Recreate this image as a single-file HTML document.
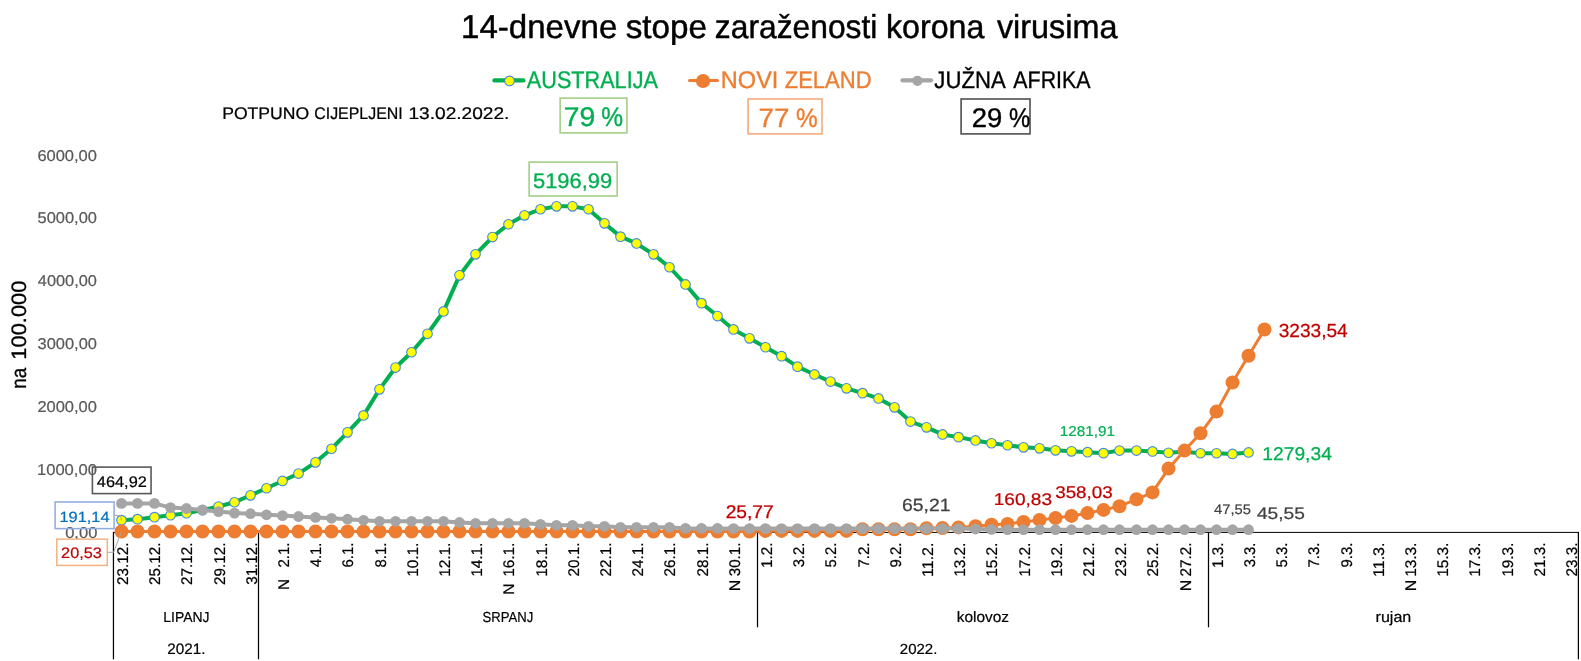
<!DOCTYPE html>
<html><head><meta charset="utf-8"><title>14-dnevne stope</title>
<style>
html,body{margin:0;padding:0;background:#fff;}
body{width:1581px;height:661px;overflow:hidden;}
svg{display:block;will-change:transform;font-family:"Liberation Sans",sans-serif;text-rendering:geometricPrecision;}
</style></head><body>
<svg width="1581" height="661" viewBox="0 0 1581 661">
<rect width="1581" height="661" fill="#fff"/>
<text transform="translate(461.09,37.90) scale(0.9978,1)" font-size="33.14" fill="#000" stroke="#000" stroke-width="0.46" stroke-linejoin="round">14-dnevne</text>
<text transform="translate(625.70,37.90) scale(1.0025,1)" font-size="33.14" fill="#000" stroke="#000" stroke-width="0.46" stroke-linejoin="round">stope</text>
<text transform="translate(714.83,37.90) scale(0.9594,1)" font-size="33.14" fill="#000" stroke="#000" stroke-width="0.46" stroke-linejoin="round">zaraženosti</text>
<text transform="translate(886.05,37.90) scale(0.9705,1)" font-size="33.14" fill="#000" stroke="#000" stroke-width="0.46" stroke-linejoin="round">korona</text>
<text transform="translate(996.90,37.90) scale(0.9772,1)" font-size="33.14" fill="#000" stroke="#000" stroke-width="0.46" stroke-linejoin="round">virusima</text>
<line x1="494.4" y1="80.4" x2="523.5" y2="80.4" stroke="#00b050" stroke-width="4.2" stroke-linecap="round"/>
<circle cx="509.5" cy="80.9" r="4.8" fill="#ffff00" stroke="#3f88dc" stroke-width="1.1"/>
<text transform="translate(526.86,87.50) scale(0.8966,1)" font-size="24.13" fill="#00b050" stroke="#00b050" stroke-width="0.34" stroke-linejoin="round">AUSTRALIJA</text>
<line x1="689.5" y1="80.5" x2="717.5" y2="80.5" stroke="#ed7d31" stroke-width="3" stroke-linecap="round"/>
<circle cx="703.05" cy="81.0" r="7.1" fill="#ed7d31"/>
<text transform="translate(720.87,87.50) scale(0.9746,1)" font-size="24.13" fill="#ed7d31" stroke="#ed7d31" stroke-width="0.34" stroke-linejoin="round">NOVI</text>
<text transform="translate(784.72,87.50) scale(0.9121,1)" font-size="24.13" fill="#ed7d31" stroke="#ed7d31" stroke-width="0.34" stroke-linejoin="round">ZELAND</text>
<line x1="902.5" y1="80.3" x2="931.0" y2="80.3" stroke="#a5a5a5" stroke-width="4.2" stroke-linecap="round"/>
<circle cx="917.4" cy="80.8" r="5.1" fill="#a5a5a5"/>
<text transform="translate(934.37,87.50) scale(0.9169,1)" font-size="24.13" fill="#000" stroke="#000" stroke-width="0.34" stroke-linejoin="round">JUŽNA</text>
<text transform="translate(1013.36,87.50) scale(0.8857,1)" font-size="24.13" fill="#000" stroke="#000" stroke-width="0.34" stroke-linejoin="round">AFRIKA</text>
<text transform="translate(222.16,119.40) scale(1.0466,1)" font-size="16.81" fill="#000" stroke="#000" stroke-width="0.24" stroke-linejoin="round">POTPUNO</text>
<text transform="translate(314.20,119.40) scale(0.9482,1)" font-size="16.81" fill="#000" stroke="#000" stroke-width="0.24" stroke-linejoin="round">CIJEPLJENI</text>
<text transform="translate(408.45,119.40) scale(1.1374,1)" font-size="16.81" fill="#000" stroke="#000" stroke-width="0.24" stroke-linejoin="round">13.02.2022.</text>
<rect x="560.15" y="98.10" width="66.75" height="34.80" fill="none" stroke="#a9d18e" stroke-width="1.7"/>
<text transform="translate(563.86,125.95) scale(1.0464,1)" font-size="27.05" fill="#00b050" stroke="#00b050" stroke-width="0.38" stroke-linejoin="round">79</text>
<text transform="translate(601.14,125.95) scale(0.9074,1)" font-size="27.05" fill="#00b050" stroke="#00b050" stroke-width="0.38" stroke-linejoin="round">%</text>
<rect x="748.10" y="99.00" width="73.90" height="34.90" fill="none" stroke="#f4b183" stroke-width="1.7"/>
<text transform="translate(758.54,126.80) scale(1.0356,1)" font-size="26.69" fill="#ed7d31" stroke="#ed7d31" stroke-width="0.37" stroke-linejoin="round">77</text>
<text transform="translate(795.95,126.80) scale(0.9148,1)" font-size="26.69" fill="#ed7d31" stroke="#ed7d31" stroke-width="0.37" stroke-linejoin="round">%</text>
<rect x="961.10" y="99.00" width="68.90" height="34.90" fill="none" stroke="#595959" stroke-width="1.7"/>
<text transform="translate(971.73,126.80) scale(1.0189,1)" font-size="26.98" fill="#000" stroke="#000" stroke-width="0.38" stroke-linejoin="round">29</text>
<text transform="translate(1009.06,126.80) scale(0.8871,1)" font-size="26.98" fill="#000" stroke="#000" stroke-width="0.38" stroke-linejoin="round">%</text>
<text transform="translate(36.94,475.15) scale(1.0585,1)" font-size="15.68" fill="#595959" stroke="#595959" stroke-width="0.22" stroke-linejoin="round">1000,00</text>
<text transform="translate(37.38,412.25) scale(1.0507,1)" font-size="15.68" fill="#595959" stroke="#595959" stroke-width="0.22" stroke-linejoin="round">2000,00</text>
<text transform="translate(37.58,349.35) scale(1.0471,1)" font-size="15.68" fill="#595959" stroke="#595959" stroke-width="0.22" stroke-linejoin="round">3000,00</text>
<text transform="translate(37.84,286.05) scale(1.0424,1)" font-size="15.68" fill="#595959" stroke="#595959" stroke-width="0.22" stroke-linejoin="round">4000,00</text>
<text transform="translate(37.54,223.15) scale(1.0477,1)" font-size="15.68" fill="#595959" stroke="#595959" stroke-width="0.22" stroke-linejoin="round">5000,00</text>
<text transform="translate(37.38,161.25) scale(1.0507,1)" font-size="15.68" fill="#595959" stroke="#595959" stroke-width="0.22" stroke-linejoin="round">6000,00</text>
<text transform="translate(65.16,538.25) scale(1.0545,1)" font-size="15.68" fill="#595959" stroke="#595959" stroke-width="0.22" stroke-linejoin="round">0,00</text>
<text transform="translate(26.20,388.74) rotate(-90) scale(0.9001,1)" font-size="20.90" fill="#000" stroke="#000" stroke-width="0.29" stroke-linejoin="round">na</text>
<text transform="translate(26.20,359.66) rotate(-90) scale(1.0467,1)" font-size="20.90" fill="#000" stroke="#000" stroke-width="0.29" stroke-linejoin="round">100.000</text>
<line x1="113.50" y1="532.40" x2="1578.50" y2="532.40" stroke="#000" stroke-width="1.0"/>
<line x1="113.45" y1="531.90" x2="113.45" y2="659.30" stroke="#000" stroke-width="1.25"/>
<line x1="258.50" y1="531.90" x2="258.50" y2="659.30" stroke="#000" stroke-width="1.25"/>
<line x1="757.50" y1="531.90" x2="757.50" y2="627.30" stroke="#000" stroke-width="1.25"/>
<line x1="1208.50" y1="531.90" x2="1208.50" y2="627.30" stroke="#000" stroke-width="1.25"/>
<line x1="1578.40" y1="531.90" x2="1578.40" y2="659.30" stroke="#000" stroke-width="1.25"/>
<polyline points="121.50,520.15 137.50,519.15 154.50,517.15 170.50,515.25 186.50,513.25 202.50,510.15 218.50,506.55 234.50,502.25 250.50,495.35 266.50,488.25 282.50,480.95 298.50,473.55 315.50,462.35 331.50,448.75 347.50,432.35 363.50,415.45 379.50,389.35 395.50,367.55 411.50,352.25 427.50,333.75 443.50,311.45 459.50,275.35 475.50,254.35 492.50,237.05 508.50,224.25 524.50,215.35 540.50,209.25 556.50,206.35 572.50,206.35 588.50,209.25 604.50,223.35 620.50,236.65 636.50,243.45 653.50,254.35 669.50,267.25 685.50,284.45 701.50,303.15 717.50,316.05 733.50,329.45 749.50,338.35 765.50,347.25 781.50,356.15 797.50,366.65 814.50,374.45 830.50,381.55 846.50,388.35 862.50,393.15 878.50,398.45 894.50,407.35 910.50,421.55 926.50,427.35 942.50,434.45 958.50,437.15 975.50,440.45 991.50,443.25 1007.50,445.25 1023.50,447.35 1039.50,448.35 1055.50,450.35 1071.50,451.35 1087.50,452.15 1103.50,453.15 1119.50,450.55 1136.50,450.55 1152.50,451.45 1168.50,452.75 1184.50,451.65 1200.50,453.25 1216.50,453.25 1232.50,453.95 1248.50,452.45" fill="none" stroke="#00b050" stroke-width="4.0" stroke-linejoin="round" stroke-linecap="round"/>
<g fill="#ffff00" stroke="#3f88dc" stroke-width="1.1"><circle cx="121.50" cy="520.15" r="4.8"/><circle cx="137.50" cy="519.15" r="4.8"/><circle cx="154.50" cy="517.15" r="4.8"/><circle cx="170.50" cy="515.25" r="4.8"/><circle cx="186.50" cy="513.25" r="4.8"/><circle cx="202.50" cy="510.15" r="4.8"/><circle cx="218.50" cy="506.55" r="4.8"/><circle cx="234.50" cy="502.25" r="4.8"/><circle cx="250.50" cy="495.35" r="4.8"/><circle cx="266.50" cy="488.25" r="4.8"/><circle cx="282.50" cy="480.95" r="4.8"/><circle cx="298.50" cy="473.55" r="4.8"/><circle cx="315.50" cy="462.35" r="4.8"/><circle cx="331.50" cy="448.75" r="4.8"/><circle cx="347.50" cy="432.35" r="4.8"/><circle cx="363.50" cy="415.45" r="4.8"/><circle cx="379.50" cy="389.35" r="4.8"/><circle cx="395.50" cy="367.55" r="4.8"/><circle cx="411.50" cy="352.25" r="4.8"/><circle cx="427.50" cy="333.75" r="4.8"/><circle cx="443.50" cy="311.45" r="4.8"/><circle cx="459.50" cy="275.35" r="4.8"/><circle cx="475.50" cy="254.35" r="4.8"/><circle cx="492.50" cy="237.05" r="4.8"/><circle cx="508.50" cy="224.25" r="4.8"/><circle cx="524.50" cy="215.35" r="4.8"/><circle cx="540.50" cy="209.25" r="4.8"/><circle cx="556.50" cy="206.35" r="4.8"/><circle cx="572.50" cy="206.35" r="4.8"/><circle cx="588.50" cy="209.25" r="4.8"/><circle cx="604.50" cy="223.35" r="4.8"/><circle cx="620.50" cy="236.65" r="4.8"/><circle cx="636.50" cy="243.45" r="4.8"/><circle cx="653.50" cy="254.35" r="4.8"/><circle cx="669.50" cy="267.25" r="4.8"/><circle cx="685.50" cy="284.45" r="4.8"/><circle cx="701.50" cy="303.15" r="4.8"/><circle cx="717.50" cy="316.05" r="4.8"/><circle cx="733.50" cy="329.45" r="4.8"/><circle cx="749.50" cy="338.35" r="4.8"/><circle cx="765.50" cy="347.25" r="4.8"/><circle cx="781.50" cy="356.15" r="4.8"/><circle cx="797.50" cy="366.65" r="4.8"/><circle cx="814.50" cy="374.45" r="4.8"/><circle cx="830.50" cy="381.55" r="4.8"/><circle cx="846.50" cy="388.35" r="4.8"/><circle cx="862.50" cy="393.15" r="4.8"/><circle cx="878.50" cy="398.45" r="4.8"/><circle cx="894.50" cy="407.35" r="4.8"/><circle cx="910.50" cy="421.55" r="4.8"/><circle cx="926.50" cy="427.35" r="4.8"/><circle cx="942.50" cy="434.45" r="4.8"/><circle cx="958.50" cy="437.15" r="4.8"/><circle cx="975.50" cy="440.45" r="4.8"/><circle cx="991.50" cy="443.25" r="4.8"/><circle cx="1007.50" cy="445.25" r="4.8"/><circle cx="1023.50" cy="447.35" r="4.8"/><circle cx="1039.50" cy="448.35" r="4.8"/><circle cx="1055.50" cy="450.35" r="4.8"/><circle cx="1071.50" cy="451.35" r="4.8"/><circle cx="1087.50" cy="452.15" r="4.8"/><circle cx="1103.50" cy="453.15" r="4.8"/><circle cx="1119.50" cy="450.55" r="4.8"/><circle cx="1136.50" cy="450.55" r="4.8"/><circle cx="1152.50" cy="451.45" r="4.8"/><circle cx="1168.50" cy="452.75" r="4.8"/><circle cx="1184.50" cy="451.65" r="4.8"/><circle cx="1200.50" cy="453.25" r="4.8"/><circle cx="1216.50" cy="453.25" r="4.8"/><circle cx="1232.50" cy="453.95" r="4.8"/><circle cx="1248.50" cy="452.45" r="4.8"/></g>
<polyline points="121.50,531.50 137.50,531.50 154.50,531.50 170.50,531.50 186.50,531.50 202.50,531.50 218.50,531.50 234.50,531.50 250.50,531.50 266.50,531.50 282.50,531.50 298.50,531.50 315.50,531.50 331.50,531.50 347.50,531.50 363.50,531.50 379.50,531.50 395.50,531.50 411.50,531.50 427.50,531.50 443.50,531.50 459.50,531.50 475.50,531.50 492.50,531.50 508.50,531.50 524.50,531.50 540.50,531.50 556.50,531.50 572.50,531.50 588.50,531.50 604.50,531.50 620.50,531.50 636.50,531.50 653.50,531.50 669.50,531.50 685.50,531.50 701.50,531.50 717.50,531.50 733.50,531.50 749.50,531.50 765.50,530.90 781.50,530.90 797.50,530.90 814.50,530.90 830.50,530.90 846.50,530.90 862.50,529.20 878.50,529.20 894.50,529.20 910.50,529.30 926.50,528.30 942.50,528.00 958.50,527.40 975.50,526.20 991.50,524.80 1007.50,523.90 1023.50,521.90 1039.50,519.90 1055.50,518.00 1071.50,515.90 1087.50,513.10 1103.50,509.90 1119.50,506.20 1136.50,499.30 1152.50,492.40 1168.50,468.60 1184.50,450.60 1200.50,433.30 1216.50,411.60 1232.50,382.50 1248.50,355.70 1264.50,329.50" fill="none" stroke="#ed7d31" stroke-width="3.0" stroke-linejoin="round" stroke-linecap="round"/>
<g fill="#ed7d31"><circle cx="121.50" cy="531.50" r="7.0"/><circle cx="137.50" cy="531.50" r="7.0"/><circle cx="154.50" cy="531.50" r="7.0"/><circle cx="170.50" cy="531.50" r="7.0"/><circle cx="186.50" cy="531.50" r="7.0"/><circle cx="202.50" cy="531.50" r="7.0"/><circle cx="218.50" cy="531.50" r="7.0"/><circle cx="234.50" cy="531.50" r="7.0"/><circle cx="250.50" cy="531.50" r="7.0"/><circle cx="266.50" cy="531.50" r="7.0"/><circle cx="282.50" cy="531.50" r="7.0"/><circle cx="298.50" cy="531.50" r="7.0"/><circle cx="315.50" cy="531.50" r="7.0"/><circle cx="331.50" cy="531.50" r="7.0"/><circle cx="347.50" cy="531.50" r="7.0"/><circle cx="363.50" cy="531.50" r="7.0"/><circle cx="379.50" cy="531.50" r="7.0"/><circle cx="395.50" cy="531.50" r="7.0"/><circle cx="411.50" cy="531.50" r="7.0"/><circle cx="427.50" cy="531.50" r="7.0"/><circle cx="443.50" cy="531.50" r="7.0"/><circle cx="459.50" cy="531.50" r="7.0"/><circle cx="475.50" cy="531.50" r="7.0"/><circle cx="492.50" cy="531.50" r="7.0"/><circle cx="508.50" cy="531.50" r="7.0"/><circle cx="524.50" cy="531.50" r="7.0"/><circle cx="540.50" cy="531.50" r="7.0"/><circle cx="556.50" cy="531.50" r="7.0"/><circle cx="572.50" cy="531.50" r="7.0"/><circle cx="588.50" cy="531.50" r="7.0"/><circle cx="604.50" cy="531.50" r="7.0"/><circle cx="620.50" cy="531.50" r="7.0"/><circle cx="636.50" cy="531.50" r="7.0"/><circle cx="653.50" cy="531.50" r="7.0"/><circle cx="669.50" cy="531.50" r="7.0"/><circle cx="685.50" cy="531.50" r="7.0"/><circle cx="701.50" cy="531.50" r="7.0"/><circle cx="717.50" cy="531.50" r="7.0"/><circle cx="733.50" cy="531.50" r="7.0"/><circle cx="749.50" cy="531.50" r="7.0"/><circle cx="765.50" cy="530.90" r="7.0"/><circle cx="781.50" cy="530.90" r="7.0"/><circle cx="797.50" cy="530.90" r="7.0"/><circle cx="814.50" cy="530.90" r="7.0"/><circle cx="830.50" cy="530.90" r="7.0"/><circle cx="846.50" cy="530.90" r="7.0"/><circle cx="862.50" cy="529.20" r="7.0"/><circle cx="878.50" cy="529.20" r="7.0"/><circle cx="894.50" cy="529.20" r="7.0"/><circle cx="910.50" cy="529.30" r="7.0"/><circle cx="926.50" cy="528.30" r="7.0"/><circle cx="942.50" cy="528.00" r="7.0"/><circle cx="958.50" cy="527.40" r="7.0"/><circle cx="975.50" cy="526.20" r="7.0"/><circle cx="991.50" cy="524.80" r="7.0"/><circle cx="1007.50" cy="523.90" r="7.0"/><circle cx="1023.50" cy="521.90" r="7.0"/><circle cx="1039.50" cy="519.90" r="7.0"/><circle cx="1055.50" cy="518.00" r="7.0"/><circle cx="1071.50" cy="515.90" r="7.0"/><circle cx="1087.50" cy="513.10" r="7.0"/><circle cx="1103.50" cy="509.90" r="7.0"/><circle cx="1119.50" cy="506.20" r="7.0"/><circle cx="1136.50" cy="499.30" r="7.0"/><circle cx="1152.50" cy="492.40" r="7.0"/><circle cx="1168.50" cy="468.60" r="7.0"/><circle cx="1184.50" cy="450.60" r="7.0"/><circle cx="1200.50" cy="433.30" r="7.0"/><circle cx="1216.50" cy="411.60" r="7.0"/><circle cx="1232.50" cy="382.50" r="7.0"/><circle cx="1248.50" cy="355.70" r="7.0"/><circle cx="1264.50" cy="329.50" r="7.0"/></g>
<polyline points="121.50,503.40 137.50,503.40 154.50,503.40 170.50,507.60 186.50,508.50 202.50,510.00 218.50,511.60 234.50,513.10 250.50,513.70 266.50,514.80 282.50,515.60 298.50,516.50 315.50,517.40 331.50,518.30 347.50,519.20 363.50,520.30 379.50,521.30 395.50,521.30 411.50,521.30 427.50,521.30 443.50,521.30 459.50,522.50 475.50,523.30 492.50,523.30 508.50,523.30 524.50,523.30 540.50,524.30 556.50,525.30 572.50,525.30 588.50,526.30 604.50,526.30 620.50,527.30 636.50,527.30 653.50,527.30 669.50,527.30 685.50,528.40 701.50,528.40 717.50,528.40 733.50,528.60 749.50,528.60 765.50,528.60 781.50,528.60 797.50,528.60 814.50,528.60 830.50,528.60 846.50,528.60 862.50,528.60 878.50,528.60 894.50,528.60 910.50,528.60 926.50,528.60 942.50,528.60 958.50,528.60 975.50,529.00 991.50,529.40 1007.50,529.70 1023.50,529.70 1039.50,529.70 1055.50,529.70 1071.50,529.70 1087.50,529.70 1103.50,529.70 1119.50,529.70 1136.50,529.70 1152.50,529.70 1168.50,529.70 1184.50,529.70 1200.50,529.70 1216.50,529.70 1232.50,529.70 1248.50,529.70" fill="none" stroke="#a5a5a5" stroke-width="4.0" stroke-linejoin="round" stroke-linecap="round"/>
<g fill="#a5a5a5"><circle cx="121.50" cy="503.40" r="5.4"/><circle cx="137.50" cy="503.40" r="5.4"/><circle cx="154.50" cy="503.40" r="5.4"/><circle cx="170.50" cy="507.60" r="5.4"/><circle cx="186.50" cy="508.50" r="5.4"/><circle cx="202.50" cy="510.00" r="5.4"/><circle cx="218.50" cy="511.60" r="5.4"/><circle cx="234.50" cy="513.10" r="5.4"/><circle cx="250.50" cy="513.70" r="5.4"/><circle cx="266.50" cy="514.80" r="5.4"/><circle cx="282.50" cy="515.60" r="5.4"/><circle cx="298.50" cy="516.50" r="5.4"/><circle cx="315.50" cy="517.40" r="5.4"/><circle cx="331.50" cy="518.30" r="5.4"/><circle cx="347.50" cy="519.20" r="5.4"/><circle cx="363.50" cy="520.30" r="5.4"/><circle cx="379.50" cy="521.30" r="5.4"/><circle cx="395.50" cy="521.30" r="5.4"/><circle cx="411.50" cy="521.30" r="5.4"/><circle cx="427.50" cy="521.30" r="5.4"/><circle cx="443.50" cy="521.30" r="5.4"/><circle cx="459.50" cy="522.50" r="5.4"/><circle cx="475.50" cy="523.30" r="5.4"/><circle cx="492.50" cy="523.30" r="5.4"/><circle cx="508.50" cy="523.30" r="5.4"/><circle cx="524.50" cy="523.30" r="5.4"/><circle cx="540.50" cy="524.30" r="5.4"/><circle cx="556.50" cy="525.30" r="5.4"/><circle cx="572.50" cy="525.30" r="5.4"/><circle cx="588.50" cy="526.30" r="5.4"/><circle cx="604.50" cy="526.30" r="5.4"/><circle cx="620.50" cy="527.30" r="5.4"/><circle cx="636.50" cy="527.30" r="5.4"/><circle cx="653.50" cy="527.30" r="5.4"/><circle cx="669.50" cy="527.30" r="5.4"/><circle cx="685.50" cy="528.40" r="5.4"/><circle cx="701.50" cy="528.40" r="5.4"/><circle cx="717.50" cy="528.40" r="5.4"/><circle cx="733.50" cy="528.60" r="5.4"/><circle cx="749.50" cy="528.60" r="5.4"/><circle cx="765.50" cy="528.60" r="5.4"/><circle cx="781.50" cy="528.60" r="5.4"/><circle cx="797.50" cy="528.60" r="5.4"/><circle cx="814.50" cy="528.60" r="5.4"/><circle cx="830.50" cy="528.60" r="5.4"/><circle cx="846.50" cy="528.60" r="5.4"/><circle cx="862.50" cy="528.60" r="5.4"/><circle cx="878.50" cy="528.60" r="5.4"/><circle cx="894.50" cy="528.60" r="5.4"/><circle cx="910.50" cy="528.60" r="5.4"/><circle cx="926.50" cy="528.60" r="5.4"/><circle cx="942.50" cy="528.60" r="5.4"/><circle cx="958.50" cy="528.60" r="5.4"/><circle cx="975.50" cy="529.00" r="5.4"/><circle cx="991.50" cy="529.40" r="5.4"/><circle cx="1007.50" cy="529.70" r="5.4"/><circle cx="1023.50" cy="529.70" r="5.4"/><circle cx="1039.50" cy="529.70" r="5.4"/><circle cx="1055.50" cy="529.70" r="5.4"/><circle cx="1071.50" cy="529.70" r="5.4"/><circle cx="1087.50" cy="529.70" r="5.4"/><circle cx="1103.50" cy="529.70" r="5.4"/><circle cx="1119.50" cy="529.70" r="5.4"/><circle cx="1136.50" cy="529.70" r="5.4"/><circle cx="1152.50" cy="529.70" r="5.4"/><circle cx="1168.50" cy="529.70" r="5.4"/><circle cx="1184.50" cy="529.70" r="5.4"/><circle cx="1200.50" cy="529.70" r="5.4"/><circle cx="1216.50" cy="529.70" r="5.4"/><circle cx="1232.50" cy="529.70" r="5.4"/><circle cx="1248.50" cy="529.70" r="5.4"/></g>
<rect x="529.13" y="162.10" width="88.01" height="33.87" fill="none" stroke="#a9d18e" stroke-width="1.7"/>
<text transform="translate(532.95,188.10) scale(1.0351,1)" font-size="21.19" fill="#00b050" stroke="#00b050" stroke-width="0.30" stroke-linejoin="round">5196,99</text>
<text transform="translate(1059.84,435.90) scale(1.0683,1)" font-size="14.27" fill="#00b050" stroke="#00b050" stroke-width="0.20" stroke-linejoin="round">1281,91</text>
<text transform="translate(1262.34,459.70) scale(1.0393,1)" font-size="18.50" fill="#00b050" stroke="#00b050" stroke-width="0.26" stroke-linejoin="round">1279,34</text>
<text transform="translate(1278.67,337.40) scale(1.0097,1)" font-size="18.93" fill="#c00000" stroke="#c00000" stroke-width="0.26" stroke-linejoin="round">3233,54</text>
<text transform="translate(725.64,518.00) scale(1.0452,1)" font-size="18.36" fill="#c00000" stroke="#c00000" stroke-width="0.26" stroke-linejoin="round">25,77</text>
<text transform="translate(902.03,510.90) scale(1.0956,1)" font-size="17.66" fill="#404040" stroke="#404040" stroke-width="0.25" stroke-linejoin="round">65,21</text>
<text transform="translate(993.75,505.10) scale(1.1242,1)" font-size="16.95" fill="#c00000" stroke="#c00000" stroke-width="0.24" stroke-linejoin="round">160,83</text>
<text transform="translate(1055.19,497.50) scale(1.1098,1)" font-size="16.95" fill="#c00000" stroke="#c00000" stroke-width="0.24" stroke-linejoin="round">358,03</text>
<text transform="translate(1213.97,513.60) scale(1.0803,1)" font-size="13.70" fill="#404040" stroke="#404040" stroke-width="0.19" stroke-linejoin="round">47,55</text>
<text transform="translate(1256.98,519.30) scale(1.1392,1)" font-size="16.81" fill="#404040" stroke="#404040" stroke-width="0.24" stroke-linejoin="round">45,55</text>
<rect x="92.40" y="467.10" width="58.65" height="26.50" fill="none" stroke="#595959" stroke-width="1.6"/>
<text transform="translate(96.84,486.90) scale(1.0615,1)" font-size="15.40" fill="#000" stroke="#000" stroke-width="0.22" stroke-linejoin="round">464,92</text>
<rect x="55.10" y="502.00" width="59.00" height="26.60" fill="none" stroke="#8faadc" stroke-width="1.5"/>
<text transform="translate(59.46,521.60) scale(1.1029,1)" font-size="14.83" fill="#0070c0" stroke="#0070c0" stroke-width="0.21" stroke-linejoin="round">191,14</text>
<rect x="56.80" y="539.15" width="50.50" height="26.25" fill="none" stroke="#f4b183" stroke-width="1.5"/>
<text transform="translate(61.09,557.90) scale(1.0753,1)" font-size="15.11" fill="#c00000" stroke="#c00000" stroke-width="0.21" stroke-linejoin="round">20,53</text>
<polyline points="114.6,515.4 120.6,515.4 121.5,520.3" fill="none" stroke="#a6a6a6" stroke-width="1"/>
<polyline points="107.4,552.3 113.6,552.3 121.5,531.6" fill="none" stroke="#a6a6a6" stroke-width="1"/>
<text transform="translate(127.90,584.96) rotate(-90) scale(0.9894,1)" font-size="15.40" fill="#000" stroke="#000" stroke-width="0.22" stroke-linejoin="round">23.12.</text>
<text transform="translate(160.10,584.96) rotate(-90) scale(0.9894,1)" font-size="15.40" fill="#000" stroke="#000" stroke-width="0.22" stroke-linejoin="round">25.12.</text>
<text transform="translate(192.30,584.96) rotate(-90) scale(0.9894,1)" font-size="15.40" fill="#000" stroke="#000" stroke-width="0.22" stroke-linejoin="round">27.12.</text>
<text transform="translate(224.50,584.96) rotate(-90) scale(0.9894,1)" font-size="15.40" fill="#000" stroke="#000" stroke-width="0.22" stroke-linejoin="round">29.12.</text>
<text transform="translate(256.70,584.78) rotate(-90) scale(0.9850,1)" font-size="15.40" fill="#000" stroke="#000" stroke-width="0.22" stroke-linejoin="round">31.12.</text>
<text transform="translate(288.90,567.55) rotate(-90) scale(0.9698,1)" font-size="15.40" fill="#000" stroke="#000" stroke-width="0.22" stroke-linejoin="round">2.1.</text>
<text transform="translate(288.90,590.06) rotate(-90) scale(0.9993,1)" font-size="15.40" fill="#000" stroke="#000" stroke-width="0.22" stroke-linejoin="round">N</text>
<text transform="translate(321.10,567.12) rotate(-90) scale(0.9524,1)" font-size="15.40" fill="#000" stroke="#000" stroke-width="0.22" stroke-linejoin="round">4.1.</text>
<text transform="translate(353.30,567.55) rotate(-90) scale(0.9698,1)" font-size="15.40" fill="#000" stroke="#000" stroke-width="0.22" stroke-linejoin="round">6.1.</text>
<text transform="translate(385.50,567.44) rotate(-90) scale(0.9654,1)" font-size="15.40" fill="#000" stroke="#000" stroke-width="0.22" stroke-linejoin="round">8.1.</text>
<text transform="translate(417.70,576.87) rotate(-90) scale(1.0010,1)" font-size="15.40" fill="#000" stroke="#000" stroke-width="0.22" stroke-linejoin="round">10.1.</text>
<text transform="translate(449.90,576.87) rotate(-90) scale(1.0010,1)" font-size="15.40" fill="#000" stroke="#000" stroke-width="0.22" stroke-linejoin="round">12.1.</text>
<text transform="translate(482.10,576.87) rotate(-90) scale(1.0010,1)" font-size="15.40" fill="#000" stroke="#000" stroke-width="0.22" stroke-linejoin="round">14.1.</text>
<text transform="translate(514.30,576.87) rotate(-90) scale(1.0010,1)" font-size="15.40" fill="#000" stroke="#000" stroke-width="0.22" stroke-linejoin="round">16.1.</text>
<text transform="translate(514.30,594.68) rotate(-90) scale(1.0109,1)" font-size="15.40" fill="#000" stroke="#000" stroke-width="0.22" stroke-linejoin="round">N</text>
<text transform="translate(546.50,576.87) rotate(-90) scale(1.0010,1)" font-size="15.40" fill="#000" stroke="#000" stroke-width="0.22" stroke-linejoin="round">18.1.</text>
<text transform="translate(578.70,576.46) rotate(-90) scale(0.9885,1)" font-size="15.40" fill="#000" stroke="#000" stroke-width="0.22" stroke-linejoin="round">20.1.</text>
<text transform="translate(610.90,576.46) rotate(-90) scale(0.9885,1)" font-size="15.40" fill="#000" stroke="#000" stroke-width="0.22" stroke-linejoin="round">22.1.</text>
<text transform="translate(643.10,576.46) rotate(-90) scale(0.9885,1)" font-size="15.40" fill="#000" stroke="#000" stroke-width="0.22" stroke-linejoin="round">24.1.</text>
<text transform="translate(675.30,576.46) rotate(-90) scale(0.9885,1)" font-size="15.40" fill="#000" stroke="#000" stroke-width="0.22" stroke-linejoin="round">26.1.</text>
<text transform="translate(707.50,576.46) rotate(-90) scale(0.9885,1)" font-size="15.40" fill="#000" stroke="#000" stroke-width="0.22" stroke-linejoin="round">28.1.</text>
<text transform="translate(739.70,576.27) rotate(-90) scale(0.9828,1)" font-size="15.40" fill="#000" stroke="#000" stroke-width="0.22" stroke-linejoin="round">30.1.</text>
<text transform="translate(739.70,591.31) rotate(-90) scale(1.0342,1)" font-size="15.40" fill="#000" stroke="#000" stroke-width="0.22" stroke-linejoin="round">N</text>
<text transform="translate(771.90,567.95) rotate(-90) scale(0.9866,1)" font-size="15.40" fill="#000" stroke="#000" stroke-width="0.22" stroke-linejoin="round">1.2.</text>
<text transform="translate(804.10,567.36) rotate(-90) scale(0.9623,1)" font-size="15.40" fill="#000" stroke="#000" stroke-width="0.22" stroke-linejoin="round">3.2.</text>
<text transform="translate(836.30,567.39) rotate(-90) scale(0.9635,1)" font-size="15.40" fill="#000" stroke="#000" stroke-width="0.22" stroke-linejoin="round">5.2.</text>
<text transform="translate(868.50,567.56) rotate(-90) scale(0.9705,1)" font-size="15.40" fill="#000" stroke="#000" stroke-width="0.22" stroke-linejoin="round">7.2.</text>
<text transform="translate(900.70,567.49) rotate(-90) scale(0.9673,1)" font-size="15.40" fill="#000" stroke="#000" stroke-width="0.22" stroke-linejoin="round">9.2.</text>
<text transform="translate(932.90,576.91) rotate(-90) scale(1.0383,1)" font-size="15.40" fill="#000" stroke="#000" stroke-width="0.22" stroke-linejoin="round">11.2.</text>
<text transform="translate(965.10,576.87) rotate(-90) scale(1.0010,1)" font-size="15.40" fill="#000" stroke="#000" stroke-width="0.22" stroke-linejoin="round">13.2.</text>
<text transform="translate(997.30,576.87) rotate(-90) scale(1.0010,1)" font-size="15.40" fill="#000" stroke="#000" stroke-width="0.22" stroke-linejoin="round">15.2.</text>
<text transform="translate(1029.50,576.87) rotate(-90) scale(1.0010,1)" font-size="15.40" fill="#000" stroke="#000" stroke-width="0.22" stroke-linejoin="round">17.2.</text>
<text transform="translate(1061.70,576.87) rotate(-90) scale(1.0010,1)" font-size="15.40" fill="#000" stroke="#000" stroke-width="0.22" stroke-linejoin="round">19.2.</text>
<text transform="translate(1093.90,576.46) rotate(-90) scale(0.9885,1)" font-size="15.40" fill="#000" stroke="#000" stroke-width="0.22" stroke-linejoin="round">21.2.</text>
<text transform="translate(1126.10,576.46) rotate(-90) scale(0.9885,1)" font-size="15.40" fill="#000" stroke="#000" stroke-width="0.22" stroke-linejoin="round">23.2.</text>
<text transform="translate(1158.30,576.46) rotate(-90) scale(0.9885,1)" font-size="15.40" fill="#000" stroke="#000" stroke-width="0.22" stroke-linejoin="round">25.2.</text>
<text transform="translate(1190.50,576.46) rotate(-90) scale(0.9885,1)" font-size="15.40" fill="#000" stroke="#000" stroke-width="0.22" stroke-linejoin="round">27.2.</text>
<text transform="translate(1190.50,591.31) rotate(-90) scale(1.0342,1)" font-size="15.40" fill="#000" stroke="#000" stroke-width="0.22" stroke-linejoin="round">N</text>
<text transform="translate(1222.70,567.95) rotate(-90) scale(0.9866,1)" font-size="15.40" fill="#000" stroke="#000" stroke-width="0.22" stroke-linejoin="round">1.3.</text>
<text transform="translate(1254.90,567.36) rotate(-90) scale(0.9623,1)" font-size="15.40" fill="#000" stroke="#000" stroke-width="0.22" stroke-linejoin="round">3.3.</text>
<text transform="translate(1287.10,567.39) rotate(-90) scale(0.9635,1)" font-size="15.40" fill="#000" stroke="#000" stroke-width="0.22" stroke-linejoin="round">5.3.</text>
<text transform="translate(1319.30,567.56) rotate(-90) scale(0.9705,1)" font-size="15.40" fill="#000" stroke="#000" stroke-width="0.22" stroke-linejoin="round">7.3.</text>
<text transform="translate(1351.50,567.49) rotate(-90) scale(0.9673,1)" font-size="15.40" fill="#000" stroke="#000" stroke-width="0.22" stroke-linejoin="round">9.3.</text>
<text transform="translate(1383.70,576.91) rotate(-90) scale(1.0383,1)" font-size="15.40" fill="#000" stroke="#000" stroke-width="0.22" stroke-linejoin="round">11.3.</text>
<text transform="translate(1415.90,576.87) rotate(-90) scale(1.0010,1)" font-size="15.40" fill="#000" stroke="#000" stroke-width="0.22" stroke-linejoin="round">13.3.</text>
<text transform="translate(1415.90,591.31) rotate(-90) scale(1.0342,1)" font-size="15.40" fill="#000" stroke="#000" stroke-width="0.22" stroke-linejoin="round">N</text>
<text transform="translate(1448.10,576.87) rotate(-90) scale(1.0010,1)" font-size="15.40" fill="#000" stroke="#000" stroke-width="0.22" stroke-linejoin="round">15.3.</text>
<text transform="translate(1480.30,576.87) rotate(-90) scale(1.0010,1)" font-size="15.40" fill="#000" stroke="#000" stroke-width="0.22" stroke-linejoin="round">17.3.</text>
<text transform="translate(1512.50,576.87) rotate(-90) scale(1.0010,1)" font-size="15.40" fill="#000" stroke="#000" stroke-width="0.22" stroke-linejoin="round">19.3.</text>
<text transform="translate(1544.70,576.46) rotate(-90) scale(0.9885,1)" font-size="15.40" fill="#000" stroke="#000" stroke-width="0.22" stroke-linejoin="round">21.3.</text>
<text transform="translate(1576.90,576.46) rotate(-90) scale(0.9885,1)" font-size="15.40" fill="#000" stroke="#000" stroke-width="0.22" stroke-linejoin="round">23.3.</text>
<text transform="translate(163.25,621.70) scale(0.9720,1)" font-size="14.39" fill="#000" stroke="#000" stroke-width="0.20" stroke-linejoin="round">LIPANJ</text>
<text transform="translate(482.41,621.60) scale(0.9040,1)" font-size="14.53" fill="#000" stroke="#000" stroke-width="0.20" stroke-linejoin="round">SRPANJ</text>
<text transform="translate(956.76,621.80) scale(1.0183,1)" font-size="15.17" fill="#000" stroke="#000" stroke-width="0.21" stroke-linejoin="round">kolovoz</text>
<text transform="translate(1375.54,621.80) scale(1.0607,1)" font-size="15.17" fill="#000" stroke="#000" stroke-width="0.21" stroke-linejoin="round">rujan</text>
<text transform="translate(167.23,653.80) scale(1.0141,1)" font-size="15.11" fill="#000" stroke="#000" stroke-width="0.21" stroke-linejoin="round">2021.</text>
<text transform="translate(899.85,653.80) scale(1.0203,1)" font-size="14.69" fill="#000" stroke="#000" stroke-width="0.21" stroke-linejoin="round">2022.</text>
</svg>
</body></html>
